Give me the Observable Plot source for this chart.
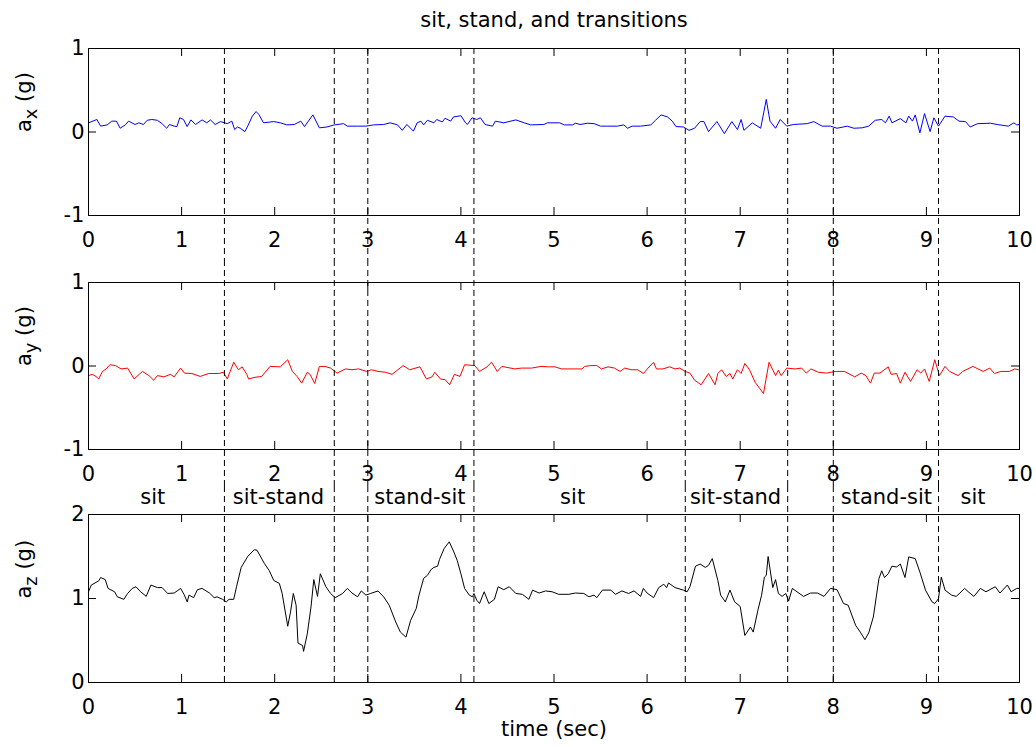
<!DOCTYPE html>
<html>
<head>
<meta charset="utf-8">
<script src="https://cdn.jsdelivr.net/npm/d3@7"></script>
<script src="https://cdn.jsdelivr.net/npm/@observablehq/plot@0.6"></script>
<style>
  body { margin: 0; background: #fff; }
  #chart { width: 1036px; height: 747px; }
  #chart svg { display: block; overflow: visible; background: transparent; }
</style>
</head>
<body>
<div id="chart"></div>
<script>
// ---------------- data ----------------
const chartTitle = "sit, stand, and transitions";
const xLabel = "time (sec)";
const xTicks = [0, 1, 2, 3, 4, 5, 6, 7, 8, 9, 10];
const yTicksXY = [-1, 0, 1];
const yTicksZ = [0, 1, 2];
const transitionTimes = [1.46, 2.64, 3.0, 4.14, 6.41, 7.51, 8.0, 9.13];
const segmentNames = ["sit", "sit-stand", "stand-sit", "sit", "sit-stand", "stand-sit", "sit"];
const segmentCenters = [0.69, 2.04, 3.56, 5.2, 6.95, 8.57, 9.5];

const axTime = [0.00,0.09,0.13,0.20,0.25,0.30,0.34,0.40,0.43,0.50,0.54,0.59,0.63,0.68,0.74,0.79,0.84,0.87,0.92,0.95,
  0.98,1.02,1.06,1.10,1.15,1.22,1.27,1.31,1.36,1.42,1.49,1.54,1.57,1.60,1.63,1.68,1.71,1.76,1.80,1.83,
  1.88,1.99,2.06,2.13,2.21,2.28,2.32,2.41,2.48,2.56,2.64,2.74,2.78,2.89,2.98,3.06,3.17,3.24,3.32,3.37,
  3.42,3.49,3.53,3.57,3.60,3.64,3.71,3.74,3.80,3.83,3.89,3.92,4.00,4.05,4.07,4.12,4.17,4.21,4.26,4.34,
  4.37,4.46,4.59,4.68,4.75,4.89,4.93,5.06,5.11,5.20,5.23,5.28,5.36,5.43,5.50,5.57,5.68,5.75,5.79,5.84,
  5.93,6.04,6.09,6.15,6.22,6.27,6.31,6.39,6.45,6.51,6.57,6.61,6.66,6.75,6.83,6.91,6.97,7.01,7.04,7.13,
  7.22,7.28,7.32,7.38,7.43,7.50,7.57,7.72,7.79,7.88,7.97,8.04,8.15,8.22,8.31,8.38,8.45,8.52,8.56,8.60,
  8.63,8.72,8.78,8.81,8.85,8.88,8.93,8.98,9.04,9.08,9.13,9.20,9.29,9.35,9.42,9.47,9.55,9.69,9.76,9.88,
  9.94,9.97,10.0];
const axValue = [0.11,0.15,0.07,0.085,0.13,0.13,0.045,0.09,0.13,0.09,0.11,0.09,0.14,0.15,0.14,0.10,0.045,0.09,0.07,0.065,
  0.17,0.15,0.065,0.145,0.09,0.145,0.11,0.145,0.09,0.125,0.10,0.13,0.03,0.06,0.045,0.005,0.07,0.19,0.245,0.21,
  0.11,0.125,0.11,0.085,0.09,0.13,0.065,0.205,0.05,0.06,0.085,0.10,0.07,0.07,0.07,0.085,0.09,0.11,0.085,0.02,
  0.09,0.01,0.11,0.13,0.085,0.14,0.11,0.15,0.12,0.165,0.13,0.18,0.195,0.11,0.09,0.17,0.15,0.17,0.09,0.07,
  0.13,0.11,0.145,0.11,0.085,0.09,0.11,0.11,0.085,0.085,0.105,0.09,0.105,0.10,0.07,0.07,0.07,0.085,0.045,0.07,
  0.07,0.085,0.14,0.205,0.18,0.13,0.065,0.06,0.02,0.045,0.125,0.125,0.005,0.125,-0.02,0.125,0.03,0.15,0.02,0.11,
  0.045,0.39,0.13,0.045,0.15,0.07,0.09,0.10,0.125,0.07,0.07,0.045,0.07,0.045,0.05,0.07,0.14,0.15,0.11,0.19,
  0.11,0.16,0.11,0.19,0.13,0.205,-0.01,0.22,0.005,0.17,0.07,0.19,0.18,0.13,0.125,0.06,0.10,0.105,0.09,0.07,
  0.11,0.085,0.09];

const ayTime = [0.00,0.04,0.08,0.11,0.15,0.19,0.23,0.29,0.35,0.42,0.49,0.58,0.65,0.70,0.74,0.81,0.88,0.92,0.99,1.03,
  1.11,1.20,1.29,1.40,1.45,1.49,1.56,1.61,1.65,1.70,1.72,1.79,1.86,1.95,2.06,2.14,2.19,2.24,2.29,2.35,
  2.38,2.43,2.48,2.54,2.60,2.67,2.76,2.83,2.90,2.99,3.04,3.11,3.19,3.26,3.38,3.45,3.56,3.63,3.69,3.72,
  3.78,3.83,3.88,3.93,3.99,4.04,4.15,4.20,4.28,4.33,4.39,4.44,4.58,4.65,4.76,4.86,4.94,5.01,5.08,5.15,
  5.30,5.33,5.39,5.46,5.51,5.58,5.65,5.71,5.76,5.83,5.90,5.96,6.01,6.07,6.10,6.17,6.24,6.30,6.35,6.41,
  6.46,6.51,6.58,6.66,6.73,6.76,6.80,6.85,6.89,6.92,6.97,7.01,7.05,7.10,7.16,7.25,7.31,7.38,7.41,7.44,
  7.50,7.59,7.66,7.71,7.76,7.84,7.93,8.02,8.12,8.23,8.30,8.35,8.40,8.44,8.50,8.59,8.62,8.68,8.72,8.77,
  8.83,8.90,8.94,8.98,9.03,9.09,9.14,9.20,9.25,9.34,9.39,9.50,9.61,9.68,9.73,9.80,9.89,9.95,9.99];
const ayValue = [-0.115,-0.10,-0.125,-0.155,-0.065,-0.035,0.015,0.005,-0.035,-0.025,-0.155,-0.065,-0.115,-0.17,-0.115,-0.13,-0.10,-0.13,-0.025,-0.085,
  -0.09,-0.125,-0.09,-0.09,-0.075,-0.155,0.045,-0.045,-0.01,-0.10,-0.155,-0.135,-0.125,-0.005,-0.01,0.075,-0.065,-0.125,-0.205,-0.075,
  -0.10,-0.21,-0.005,-0.005,-0.025,-0.085,-0.035,-0.045,-0.035,-0.065,-0.045,-0.065,-0.075,-0.10,0.005,-0.045,-0.01,-0.155,-0.13,-0.075,
  -0.155,-0.165,-0.225,-0.10,-0.125,0.015,0.005,-0.065,-0.01,0.045,-0.065,-0.005,-0.035,-0.025,-0.025,-0.005,-0.01,-0.01,-0.035,-0.035,
  -0.035,-0.005,0.005,0.005,-0.035,-0.01,-0.025,-0.065,-0.025,-0.045,-0.045,-0.09,-0.025,0.045,-0.035,-0.035,-0.01,-0.035,-0.025,-0.065,
  -0.085,-0.17,-0.225,-0.09,-0.225,-0.09,-0.045,-0.125,-0.09,-0.155,-0.045,-0.09,0.03,-0.045,-0.195,-0.33,0.045,-0.115,-0.05,-0.115,
  -0.025,-0.035,-0.025,-0.085,-0.035,-0.075,-0.085,-0.065,-0.065,-0.13,-0.085,-0.115,-0.205,-0.085,-0.085,-0.01,-0.10,-0.09,-0.205,-0.075,
  -0.185,-0.045,-0.085,-0.035,-0.185,0.075,-0.115,-0.005,-0.065,-0.115,-0.065,-0.005,-0.065,-0.025,-0.09,-0.065,-0.065,-0.035,-0.045];

const azTime = [0.00,0.03,0.07,0.11,0.13,0.18,0.21,0.28,0.31,0.38,0.42,0.47,0.51,0.56,0.62,0.67,0.74,0.79,0.85,0.92,
  0.99,1.03,1.06,1.08,1.13,1.17,1.22,1.30,1.35,1.38,1.44,1.48,1.51,1.56,1.59,1.64,1.71,1.78,1.81,1.89,
  1.94,1.99,2.05,2.08,2.14,2.17,2.20,2.23,2.25,2.30,2.31,2.35,2.39,2.42,2.46,2.49,2.55,2.60,2.65,2.73,
  2.78,2.83,2.89,2.93,2.98,3.03,3.11,3.17,3.23,3.30,3.35,3.41,3.46,3.52,3.55,3.60,3.64,3.68,3.71,3.75,
  3.77,3.82,3.875,3.92,3.96,4.00,4.04,4.09,4.125,4.14,4.17,4.20,4.25,4.30,4.36,4.40,4.46,4.52,4.59,4.66,
  4.73,4.77,4.84,4.91,4.98,5.05,5.16,5.23,5.32,5.375,5.43,5.46,5.52,5.61,5.66,5.73,5.80,5.86,5.93,5.96,
  6.00,6.07,6.125,6.18,6.21,6.23,6.30,6.39,6.43,6.46,6.52,6.57,6.625,6.66,6.70,6.76,6.79,6.84,6.89,6.94,
  7.00,7.05,7.11,7.14,7.19,7.23,7.26,7.28,7.30,7.35,7.38,7.41,7.45,7.49,7.52,7.56,7.61,7.68,7.755,7.83,
  7.90,7.97,8.04,8.11,8.16,8.24,8.29,8.34,8.38,8.43,8.49,8.52,8.55,8.59,8.63,8.68,8.72,8.77,8.81,8.88,
  8.93,8.99,9.06,9.09,9.13,9.16,9.20,9.27,9.32,9.36,9.41,9.45,9.51,9.58,9.64,9.74,9.79,9.87,9.91,9.97,
  10.0];
const azValue = [1.08,1.16,1.185,1.21,1.25,1.225,1.12,1.08,1.02,0.99,1.06,1.12,1.14,1.08,1.025,1.16,1.13,1.13,1.06,1.065,
  1.12,1.04,0.96,1.04,1.01,1.105,1.12,1.065,1.01,1.02,0.99,0.96,0.99,0.99,1.14,1.37,1.50,1.58,1.575,1.415,
  1.335,1.215,1.18,1.06,0.67,0.84,1.06,0.92,0.47,0.44,0.37,0.58,0.90,1.225,1.025,1.295,1.14,1.06,1.01,1.06,
  1.12,1.065,1.02,1.09,1.04,1.06,1.09,1.02,0.92,0.72,0.60,0.54,0.74,0.88,1.04,1.24,1.275,1.345,1.37,1.385,
  1.465,1.595,1.675,1.565,1.455,1.295,1.12,1.04,1.02,1.06,0.98,0.94,1.08,0.94,0.99,1.14,1.105,1.14,1.06,1.05,
  0.99,1.10,1.065,1.09,1.08,1.05,1.05,1.065,1.06,1.02,1.04,1.01,1.10,1.10,1.05,1.09,1.06,1.09,1.025,1.12,
  1.065,1.01,1.13,1.17,1.13,1.185,1.13,1.10,1.08,1.14,1.385,1.41,1.37,1.395,1.475,1.215,1.04,0.96,1.10,0.96,
  0.905,0.56,0.66,0.60,0.86,1.04,1.255,1.275,1.50,1.13,1.225,1.06,1.025,1.06,0.97,1.12,1.08,1.025,1.065,1.065,
  1.025,1.12,1.105,0.94,0.92,0.68,0.60,0.51,0.59,0.78,1.235,1.33,1.25,1.295,1.385,1.375,1.41,1.25,1.495,1.475,
  1.315,1.10,0.96,0.94,0.998,1.255,1.10,1.04,1.025,1.065,1.12,1.08,1.025,1.12,1.08,1.14,1.065,1.16,1.08,1.12,
  1.12];

// ---------------- layout ----------------
const W = 1036, ML = 88, MR = 17, TICK = 8;
const FONT = "'DejaVu Sans', sans-serif";

function panel({height, marginTop, marginBottom, time, value, color, yDomain, yTicks, yLabel, dashTop, dashBottom, extra = []}) {
  const rows = time.map((t, i) => ({t, v: value[i]}));
  const fw = W - ML - MR;
  const fh = height - marginTop - marginBottom;
  return Plot.plot({
    width: W, height, marginLeft: ML, marginRight: MR, marginTop, marginBottom,
    style: {fontFamily: FONT, fontSize: "21px", background: "transparent", overflow: "visible", color: "black"},
    x: {domain: [0, 10]},
    y: {domain: yDomain},
    marks: [
      Plot.line(rows, {x: "t", y: "v", stroke: color, strokeWidth: 1}),
      Plot.ruleX(transitionTimes, {x: d => d, stroke: "black", strokeWidth: 1, strokeDasharray: "6,4",
        insetTop: -dashTop, insetBottom: -dashBottom}),
      Plot.ruleX(xTicks, {x: d => d, stroke: "black", insetTop: fh - TICK}),
      Plot.ruleX(xTicks, {x: d => d, stroke: "black", insetBottom: fh - TICK}),
      Plot.ruleY(yTicks, {y: d => d, stroke: "black", insetRight: fw - TICK}),
      Plot.ruleY(yTicks, {y: d => d, stroke: "black", insetLeft: fw - TICK}),
      Plot.frame({stroke: "black"}),
      Plot.axisX({ticks: xTicks, tickSize: 0, tickPadding: 17, label: null, tickFormat: d => String(d)}),
      Plot.axisY({ticks: yTicks, tickSize: 0, tickPadding: 4, label: null, tickFormat: d => String(d)}),
      Plot.text([yLabel], {frameAnchor: "left", dx: -64, rotate: -90, text: d => d}),
      ...extra
    ]
  });
}

const p1 = panel({height: 260, marginTop: 48, marginBottom: 45, time: axTime, value: axValue, color: "#0000ff",
  yDomain: [-1, 1], yTicks: yTicksXY, yLabel: "a_x (g)", dashTop: 0, dashBottom: 45,
  extra: [Plot.text([chartTitle], {frameAnchor: "top", dy: -28, lineAnchor: "middle", text: d => d})]});
const p2 = panel({height: 226, marginTop: 22, marginBottom: 37, time: ayTime, value: ayValue, color: "#ff0000",
  yDomain: [-1, 1], yTicks: yTicksXY, yLabel: "a_y (g)", dashTop: 22, dashBottom: 37});
const p3 = panel({height: 261, marginTop: 28, marginBottom: 65, time: azTime, value: azValue, color: "#000000",
  yDomain: [0, 2], yTicks: yTicksZ, yLabel: "a_z (g)", dashTop: 28, dashBottom: 0,
  extra: [
    Plot.text(segmentNames, {x: (d, i) => segmentCenters[i], frameAnchor: "top", dy: -17, lineAnchor: "middle", text: d => d}),
    Plot.text([xLabel], {frameAnchor: "bottom", dy: 47, lineAnchor: "middle", text: d => d})
  ]});

const root = document.getElementById("chart");
for (const p of [p1, p2, p3]) {
  // subscripted axis labels
  d3.select(p).selectAll("text").each(function () {
    const m = this.textContent.match(/^a_(\w) \(g\)$/);
    if (m) {
      const s = d3.select(this);
      s.text(null);
      s.append("tspan").text("a");
      s.append("tspan").attr("dy", "0.3em").attr("font-size", "0.85em").text(m[1]);
      s.append("tspan").attr("dy", "-0.25em").text(" (g)");
    }
  });
  root.appendChild(p);
}
</script>
</body>
</html>
